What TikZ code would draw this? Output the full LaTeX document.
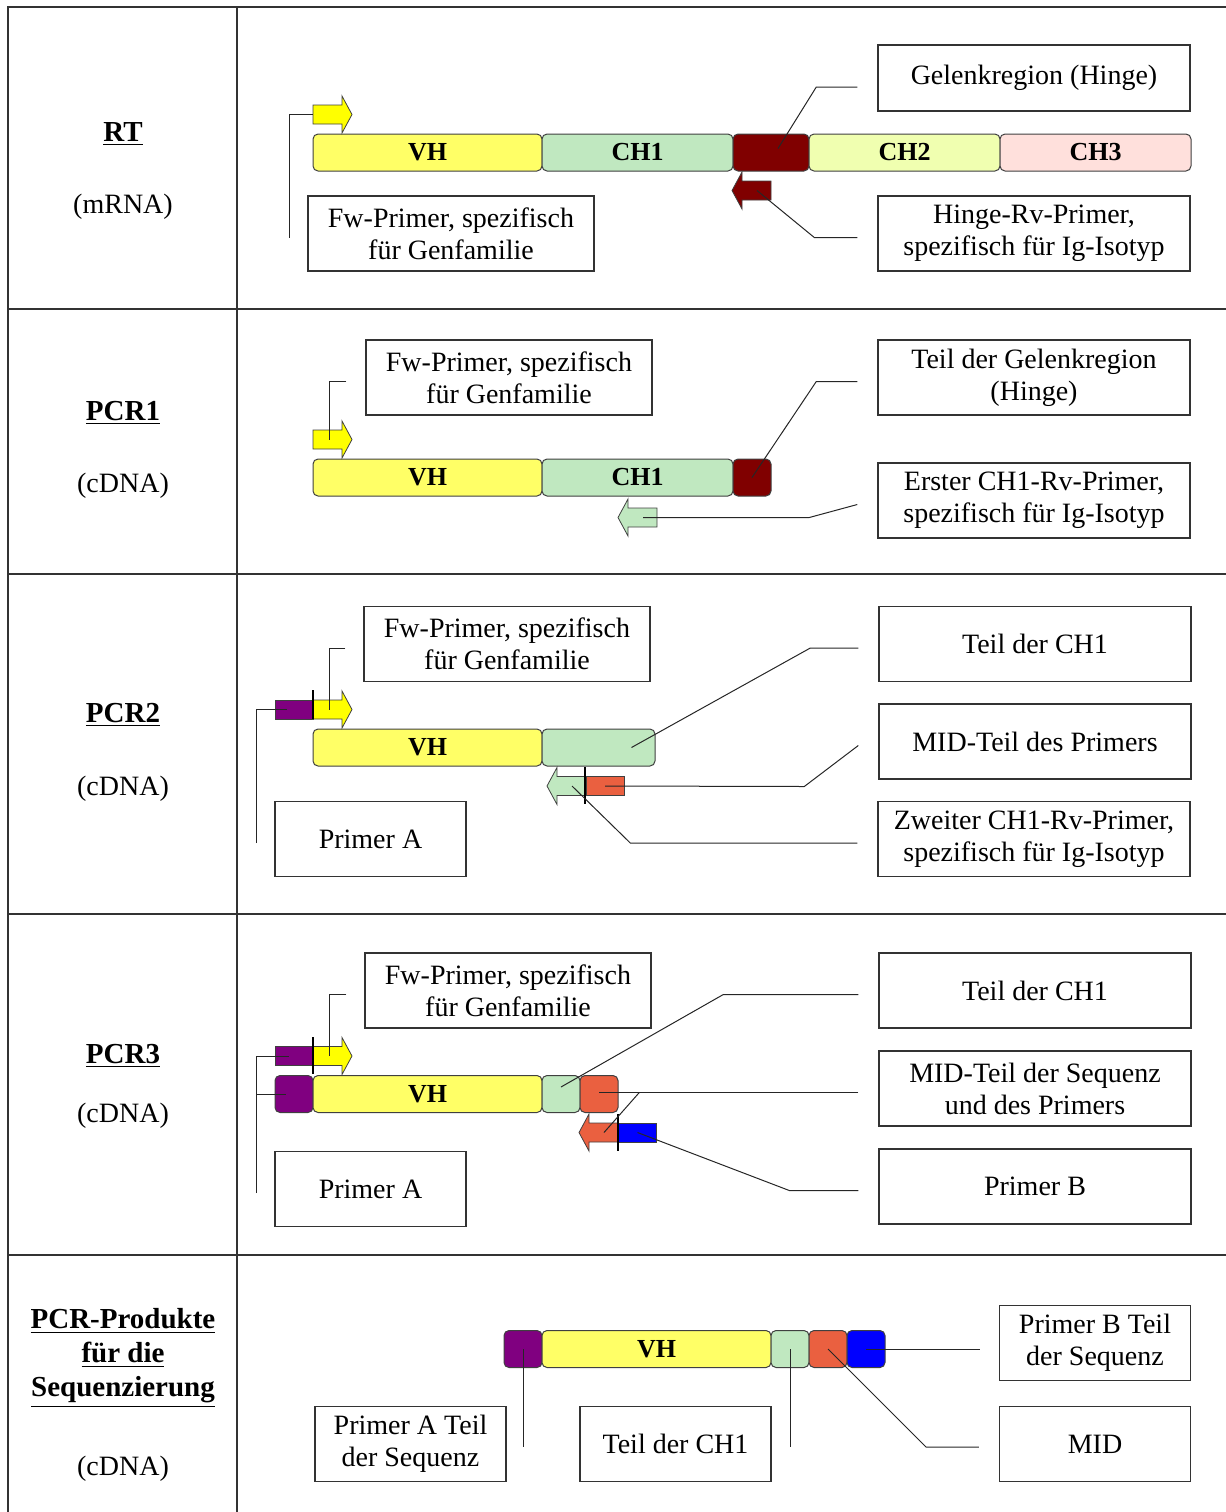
\documentclass[tikz,border=0pt]{standalone}
\usepackage{fontspec}
\setmainfont{Liberation Serif}
\usetikzlibrary{positioning,calc}

\definecolor{vhyellow}{HTML}{FFFF66}
\definecolor{fwyellow}{HTML}{FFFF00}
\definecolor{ch1green}{HTML}{C0E8C0}
\definecolor{hingered}{HTML}{800000}
\definecolor{ch2lime}{HTML}{F0FFB0}
\definecolor{ch3rose}{HTML}{FFE0DC}
\definecolor{midorange}{HTML}{EA6040}
\definecolor{mpurple}{HTML}{800080}
\definecolor{mblue}{HTML}{0000FF}
\definecolor{segline}{HTML}{404040}

\tikzset{
  grid/.style={draw=black!80, line width=0.75pt},
  phase/.style={font=\bfseries\fontsize{14.5}{17}\selectfont, align=center},
  phasesub/.style={font=\fontsize{14}{16}\selectfont},
  seg/.style={draw=segline, line width=0.5pt, rounded corners=2.5pt,
    minimum height=18.5pt, inner sep=0pt, outer sep=0pt, anchor=west,
    font=\bfseries\fontsize{13}{15}\selectfont},
  vhw/.style={minimum width=114.5pt},
  chw/.style={minimum width=95.5pt},
  hingew/.style={minimum width=38pt},
  partw/.style={minimum width=56.5pt},
  blockw/.style={minimum width=19pt},
  tagblock/.style={draw=segline, line width=0.4pt, minimum width=19pt,
    minimum height=9.5pt, inner sep=0pt},
  infobox/.style={draw=black!80, line width=0.7pt, minimum width=156pt,
    minimum height=37.5pt, inner sep=0pt, align=center,
    font=\fontsize{14}{16}\selectfont},
  fwbox/.style={infobox, minimum width=143pt},
  smallbox/.style={infobox, minimum width=95.5pt},
  primerline/.style={draw=segline, line width=0.4pt},
  pointer/.style={draw=black!85, line width=0.5pt},
  tick/.style={draw=black, line width=0.6pt},
  pics/fwprimer/.style={code={
    \draw[primerline, fill=#1] (0,-9.5) -- (29,-9.5) -- (29,-18.5) -- (39,0)
      -- (29,18.5) -- (29,9.5) -- (0,9.5) -- cycle;
    \coordinate (-tail) at (0,0);
    \coordinate (-mid) at (16,0);
  }},
  pics/rvprimer/.style={code={
    \draw[primerline, fill=#1] (0,-9.5) -- (-29,-9.5) -- (-29,-18.5) -- (-39,0)
      -- (-29,18.5) -- (-29,9.5) -- (0,9.5) -- cycle;
    \coordinate (-mid) at (-14,0);
  }}
}

\begin{document}
\begin{tikzpicture}[x=0.5pt,y=-0.5pt]
  \useasboundingbox (0,0) rectangle (1226,1512);

  % table
  \draw[grid] (8,1512) -- (8,7) -- (1226,7);
  \draw[grid] (237,7) -- (237,1512);
  \foreach \y in {309,574,914,1255}
    \draw[grid] (8,\y) -- (1226,\y);

  % left column
  \node[phase] (rtname) at (123,134) {\underline{RT}};
  \node[phasesub] (rtsub) at (123,207) {(mRNA)};
  \node[phase] (p1name) at (123,413) {\underline{PCR1}};
  \node[phasesub] (p1sub) at (123,486) {(cDNA)};
  \node[phase] (p2name) at (123,715) {\underline{PCR2}};
  \node[phasesub] (p2sub) at (123,789) {(cDNA)};
  \node[phase] (p3name) at (123,1056) {\underline{PCR3}};
  \node[phasesub] (p3sub) at (123,1116) {(cDNA)};
  \node[phase] (p4name) at (123,1358)
    {\underline{PCR-Produkte}\\\underline{für die}\\\underline{Sequenzierung}};
  \node[phasesub] (p4sub) at (123,1469) {(cDNA)};

  % RT
  \node[seg, vhw, fill=vhyellow] (rtvh) at (313,152.5) {VH};
  \node[seg, chw, fill=ch1green, right=0pt of rtvh] (rtch1) {CH1};
  \node[seg, hingew, fill=hingered, right=0pt of rtch1] (rthinge) {};
  \node[seg, chw, fill=ch2lime, right=0pt of rthinge] (rtch2) {CH2};
  \node[seg, chw, fill=ch3rose, right=0pt of rtch2] (rtch3) {CH3};
  \pic (rtfw) at (313,114.5) {fwprimer=fwyellow};
  \pic (rtrv) at (771,190.5) {rvprimer=hingered};
  \node[fwbox] (rtfwbox) at (451,233.5) {Fw-Primer, spezifisch\\für Genfamilie};
  \node[infobox, minimum height=33pt] (rtgelenkbox) at (1034,78) {Gelenkregion (Hinge)};
  \node[infobox] (rtrvbox) at (1034,233.5) {Hinge-Rv-Primer,\\spezifisch für Ig-Isotyp};
  \draw[pointer] ([xshift=-9pt,yshift=-2pt]rtfwbox.west) |- (rtfw-tail);
  \draw[pointer] ([xshift=-10pt,yshift=-4.5pt]rtgelenkbox.west) -- ++(-41,0)
    -- ($(rthinge.center)+(7,-4)$);
  \draw[pointer] ([xshift=-10pt,yshift=-2pt]rtrvbox.west) -- ++(-43,0) -- (rtrv-mid);

  % PCR1
  \node[seg, vhw, fill=vhyellow] (p1vh) at (313,477.5) {VH};
  \node[seg, chw, fill=ch1green, right=0pt of p1vh] (p1ch1) {CH1};
  \node[seg, blockw, fill=hingered, right=0pt of p1ch1] (p1hinge) {};
  \pic (p1fw) at (313,439.5) {fwprimer=fwyellow};
  \pic (p1rv) at (657,517.5) {rvprimer=ch1green};
  \node[fwbox] (p1fwbox) at (509,377.5) {Fw-Primer, spezifisch\\für Genfamilie};
  \node[infobox] (p1hingebox) at (1034,377.5) {Teil der Gelenkregion\\(Hinge)};
  \node[infobox] (p1rvbox) at (1034,500.5) {Erster CH1-Rv-Primer,\\spezifisch für Ig-Isotyp};
  \draw[pointer] ([xshift=-9.5pt,yshift=-2pt]p1fwbox.west) -| (p1fw-mid);
  \draw[pointer] ([xshift=-10pt,yshift=-2pt]p1hingebox.west) -- ++(-41,0) -- (p1hinge.center);
  \draw[pointer] ([xshift=-10pt,yshift=-2pt]p1rvbox.west) -- ++(-48,13) -- (p1rv-mid);

  % PCR2
  \node[seg, vhw, fill=vhyellow] (p2vh) at (313,747.5) {VH};
  \node[seg, partw, fill=ch1green, right=0pt of p2vh] (p2ch1) {};
  \pic (p2fw) at (313,709.5) {fwprimer=fwyellow};
  \node[tagblock, fill=mpurple] (p2tag) at (294,709.5) {};
  \draw[tick] (313,690) -- (313,719);
  \pic (p2rv) at (586,786) {rvprimer=ch1green};
  \node[tagblock, fill=midorange] (p2rvtag) at (605,786) {};
  \draw[tick, line width=1pt] (585,767) -- (585,804);
  \node[fwbox] (p2fwbox) at (507,644) {Fw-Primer, spezifisch\\für Genfamilie};
  \node[smallbox] (p2abox) at (370.5,839) {Primer A};
  \node[infobox] (p2ch1box) at (1035,644) {Teil der CH1};
  \node[infobox] (p2midbox) at (1035,741.5) {MID-Teil des Primers};
  \node[infobox] (p2rvbox) at (1034,839) {Zweiter CH1-Rv-Primer,\\spezifisch für Ig-Isotyp};
  \draw[pointer] ([xshift=-9pt,yshift=-2pt]p2fwbox.west) -| (p2fw-mid);
  \draw[pointer] ([xshift=-9pt,yshift=-2pt]p2abox.west) |- ($(p2tag.center)+(-7,0)$);
  \draw[pointer] ([xshift=-10pt,yshift=-2pt]p2ch1box.west) -- ++(-48,0)
    -- ($(p2ch1.center)+(33,0)$);
  \draw[pointer] ([xshift=-10pt,yshift=-2pt]p2midbox.west) -- ++(-54,41) -- (p2rvtag.center);
  \draw[pointer] ([xshift=-10pt,yshift=-2pt]p2rvbox.west) -- ++(-227,0) -- (p2rv-mid);

  % PCR3
  \node[seg, blockw, fill=mpurple] (p3purple) at (275,1094) {};
  \node[seg, vhw, fill=vhyellow, right=0pt of p3purple] (p3vh) {VH};
  \node[seg, blockw, fill=ch1green, right=0pt of p3vh] (p3ch1) {};
  \node[seg, blockw, fill=midorange, right=0pt of p3ch1] (p3mid) {};
  \pic (p3fw) at (313,1056) {fwprimer=fwyellow};
  \node[tagblock, fill=mpurple] (p3tag) at (294,1056) {};
  \draw[tick] (313,1037) -- (313,1074);
  \pic (p3rv) at (618,1132.5) {rvprimer=midorange};
  \node[tagblock, fill=mblue] (p3rvtag) at (637.5,1132.5) {};
  \draw[tick] (618,1114) -- (618,1151);
  \node[fwbox] (p3fwbox) at (508,990.5) {Fw-Primer, spezifisch\\für Genfamilie};
  \node[smallbox] (p3abox) at (370.5,1189) {Primer A};
  \node[infobox] (p3ch1box) at (1035,990.5) {Teil der CH1};
  \node[infobox] (p3midbox) at (1035,1088.5) {MID-Teil der Sequenz\\und des Primers};
  \node[infobox] (p3bbox) at (1035,1186.5) {Primer B};
  \draw[pointer] ([xshift=-9pt,yshift=-2pt]p3fwbox.west) -| (p3fw-mid);
  \draw[pointer] ([xshift=-9pt,yshift=-2pt]p3abox.west) |- ($(p3tag.center)+(-5,0)$);
  \draw[pointer] ($(p3purple.center)+(-38,0)$) -- ($(p3purple.center)+(-8,0)$);
  \draw[pointer] ([xshift=-10pt,yshift=-2pt]p3ch1box.west) -- ++(-135,0)
    -- ($(p3ch1.center)+(0,-7)$);
  \draw[pointer] ([xshift=-10pt,yshift=-2pt]p3midbox.west) -- ++(-219,0)
    coordinate (p3split) -- (p3mid.center |- p3split);
  \draw[pointer] (p3split) -- (p3rv-mid);
  \draw[pointer] ([xshift=-10pt,yshift=-2pt]p3bbox.west) -- ++(-69,0) -- (p3rvtag.center);

  % PCR-Produkte
  \node[seg, blockw, fill=mpurple] (p4purple) at (504,1349) {};
  \node[seg, vhw, fill=vhyellow, right=0pt of p4purple] (p4vh) {VH};
  \node[seg, blockw, fill=ch1green, right=0pt of p4vh] (p4ch1) {};
  \node[seg, blockw, fill=midorange, right=0pt of p4ch1] (p4mid) {};
  \node[seg, blockw, fill=mblue, right=0pt of p4mid] (p4primerb) {};
  \node[smallbox] (p4abox) at (410.5,1444) {Primer A Teil\\der Sequenz};
  \node[smallbox] (p4ch1box) at (675.5,1444) {Teil der CH1};
  \node[smallbox] (p4midbox) at (1095,1444) {MID};
  \node[smallbox] (p4bbox) at (1095,1343) {Primer B Teil\\der Sequenz};
  \draw[pointer] (p4purple.center) -- ++(0,98);
  \draw[pointer] (p4ch1.center) -- ++(0,98);
  \draw[pointer] (p4mid.center) -- ++(98,98) -- ([xshift=-10pt,yshift=-1.5pt]p4midbox.west);
  \draw[pointer] (p4primerb.center) -- ++(114,0);
\end{tikzpicture}
\end{document}
